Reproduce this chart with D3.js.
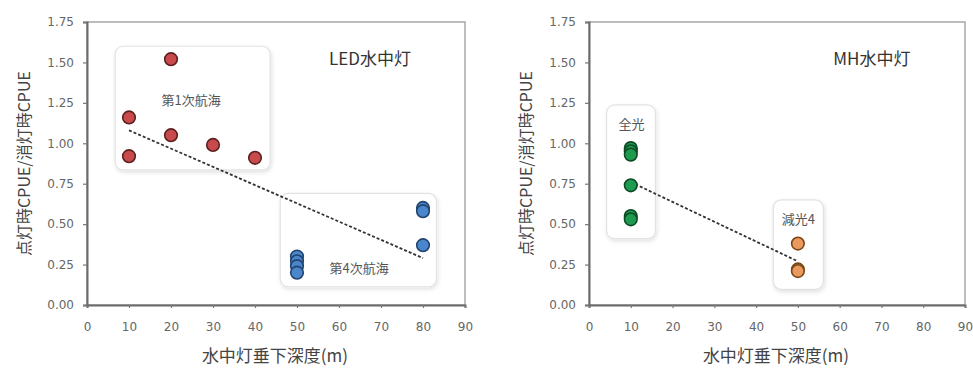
<!DOCTYPE html>
<html><head><meta charset="utf-8">
<script src="https://cdn.jsdelivr.net/npm/d3@7"></script>
<style>body{margin:0;background:#fff}svg{display:block}</style>
</head><body>
<svg id="c" width="973" height="368"></svg>
<script>
// ---- data ----
const xTicks = [0,10,20,30,40,50,60,70,80,90];
const yTicks = [0,0.25,0.5,0.75,1.0,1.25,1.5,1.75];
const xTitle = "水中灯垂下深度(m)";
const yTitle = "点灯時CPUE/消灯時CPUE";

const ledVoyage1 = [[10,1.16],[10,0.92],[20,1.52],[20,1.05],[30,0.99],[40,0.91]];
const ledVoyage4 = [[50,0.30],[50,0.27],[50,0.24],[50,0.20],[80,0.60],[80,0.58],[80,0.37]];
const ledTrend = [[10,1.08],[80,0.29]];
const ledBoxes = [{x0:6.7,x1:43.6,y0:0.835,y1:1.60,label:"第1次航海",lx:24.8,ly:1.27},
                  {x0:46,x1:83.2,y0:0.113,y1:0.69,label:"第4次航海",lx:64.8,ly:0.23}];
const ledTitle = {text:"LED水中灯", x:67.4, y:1.53};

const mhFull = [[10,0.97],[10,0.95],[10,0.93],[10,0.74],[10,0.55],[10,0.53]];
const mhDim = [[50,0.38],[50,0.22],[50,0.21]];
const mhTrend = [[10,0.76],[50,0.27]];
const mhBoxes = [{x0:4.2,x1:15.9,y0:0.41,y1:1.237,label:"全光",lx:10.2,ly:1.12},
                 {x0:44.1,x1:56.1,y0:0.097,y1:0.65,label:"減光4",lx:50.1,ly:0.536}];
const mhTitle = {text:"MH水中灯", x:67.7, y:1.53};

const svg = d3.select("#c");
const font = "'Noto Sans CJK JP','Noto Sans CJK SC',sans-serif";
const defs = svg.append("defs");
const f = defs.append("filter").attr("id","sh").attr("x","-10%").attr("y","-10%").attr("width","130%").attr("height","130%");
f.append("feDropShadow").attr("dx",1).attr("dy",2).attr("stdDeviation",2).attr("flood-color","#000").attr("flood-opacity",0.12);

function panel(ox, cfg){
  const left = ox, right = ox + cfg.w, top = 22, bottom = 305;
  const x = d3.scaleLinear().domain([0,90]).range([left,right]);
  const y = d3.scaleLinear().domain([0,1.75]).range([bottom,top]);
  const g = svg.append("g");
  // frame
  g.append("rect").attr("x",left).attr("y",top).attr("width",right-left).attr("height",bottom-top)
    .attr("fill","none").attr("stroke","#9a9a9a").attr("stroke-width",1.3);
  // boxes
  cfg.boxes.forEach(b=>{
    g.append("rect").attr("x",x(b.x0)).attr("y",y(b.y1)).attr("width",x(b.x1)-x(b.x0)).attr("height",y(b.y0)-y(b.y1))
      .attr("rx",8).attr("fill","#fff").attr("stroke","#e2e2e2").attr("stroke-width",1.2).attr("filter","url(#sh)");
    g.append("text").attr("x",x(b.lx)).attr("y",y(b.ly)).attr("text-anchor","middle").attr("dominant-baseline","central")
      .attr("font-family",font).attr("font-size",13).attr("fill","#555").text(b.label);
  });
  // axes
  const ya = d3.axisLeft(y).tickValues(yTicks).tickFormat(d3.format(".2f")).tickSize(4).tickPadding(9);
  const xa = d3.axisBottom(x).tickValues(xTicks).tickFormat(d3.format("d")).tickSize(3).tickPadding(14);
  const gy = g.append("g").attr("transform",`translate(${left},0)`).call(ya);
  const gx = g.append("g").attr("transform",`translate(0,${bottom})`).call(xa);
  [gy,gx].forEach(a=>{
    a.select(".domain").attr("stroke","#6a6a6a").attr("stroke-width",2);
    a.selectAll(".tick line").attr("stroke","#777").attr("stroke-width",1.2);
    a.selectAll(".tick text").attr("font-family","'DejaVu Sans',sans-serif").attr("font-size",12).attr("fill","#666");
  });
  // trend
  g.append("path").attr("d",d3.line().x(d=>x(d[0])).y(d=>y(d[1]))(cfg.trend))
    .attr("stroke","#333").attr("stroke-width",1.8).attr("stroke-dasharray","3,2").attr("fill","none");
  // points
  cfg.series.forEach(s=>{
    g.selectAll(null).data(s.data).join("circle")
      .attr("cx",d=>x(d[0])).attr("cy",d=>y(d[1])).attr("r",6.3)
      .attr("fill",s.fill).attr("stroke",s.stroke).attr("stroke-width",1.6);
  });
  // title
  g.append("text").attr("x",x(cfg.title.x)).attr("y",y(cfg.title.y)).attr("text-anchor","middle").attr("dominant-baseline","central")
    .attr("font-family",font).attr("font-size",17).attr("fill","#333").text(cfg.title.text);
  // axis titles
  g.append("text").attr("x",(left+right)/2 - 1).attr("y",354).attr("text-anchor","middle").attr("dominant-baseline","central")
    .attr("font-family",font).attr("font-size",17).attr("fill","#444").text(xTitle);
  g.append("text").attr("transform",`translate(${left-64},${(top+bottom)/2}) rotate(-90)`)
    .attr("text-anchor","middle").attr("dominant-baseline","central")
    .attr("font-family",font).attr("font-size",16).attr("fill","#444").text(yTitle);
}

panel(87,{w:378, boxes:ledBoxes, trend:ledTrend, title:ledTitle,
  series:[{data:ledVoyage1, fill:"#c94a4c", stroke:"#5c2020"},{data:ledVoyage4, fill:"#4a86cc", stroke:"#23446e"}]});
panel(589,{w:376, boxes:mhBoxes, trend:mhTrend, title:mhTitle,
  series:[{data:mhFull, fill:"#1e9b4e", stroke:"#0e4a25"},{data:mhDim, fill:"#ea9a5e", stroke:"#7a4818"}]});
</script>
</body></html>
